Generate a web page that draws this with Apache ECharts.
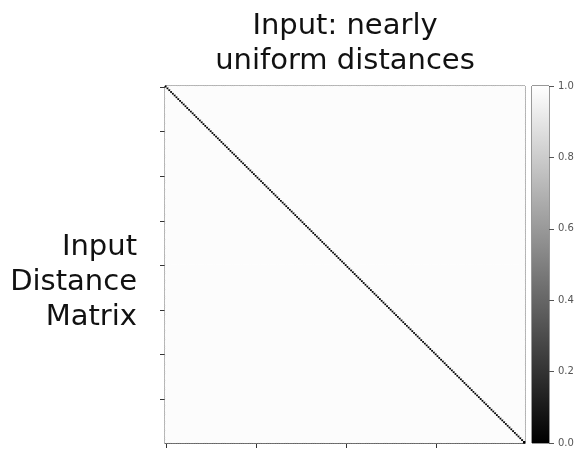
<!DOCTYPE html>
<html>
<head>
<meta charset="utf-8">
<script src="https://cdn.jsdelivr.net/npm/echarts@6/dist/echarts.min.js"></script>
<style>
  html, body { margin: 0; padding: 0; background: #fff; }
  #chart { width: 581px; height: 451px; }
</style>
</head>
<body>
<div id="chart"></div>
<script>
// Distance matrix: 200 points, self-distance 0, all other pairs nearly equal
const matrixSize = 200;
const diagonalValue = 0.0;
const offDiagonalValue = 0.99;
const xTickStep = 50;
const yTickStep = 25;
const colorbarTicks = [0.0, 0.2, 0.4, 0.6, 0.8, 1.0];
const titleText = 'Input: nearly\nuniform distances';
const rowLabelLines = ['Input', 'Distance', 'Matrix'];

const indices = [];
for (let i = 0; i < matrixSize; i++) indices.push(i);

const cells = [];
for (let r = 0; r < matrixSize; r++) {
  for (let c = 0; c < matrixSize; c++) {
    cells.push([c, r, r === c ? diagonalValue : offDiagonalValue]);
  }
}

const chart = echarts.init(document.getElementById('chart'), null, { renderer: 'canvas' });
const axisColor = '#333';
const fontFamily = '"DejaVu Sans", Verdana, sans-serif';

// Row label, one right-aligned text per line
const rowLabel = rowLabelLines.map((line, k) => ({
  type: 'text', right: 444, top: 233 + k * 35,
  style: { text: line, font: '29px ' + fontFamily, fill: '#111' }
}));

chart.setOption({
  animation: false,
  backgroundColor: '#fff',
  title: {
    text: titleText,
    left: 340, top: 4, textAlign: 'center',
    textStyle: { fontFamily, fontSize: 29, fontWeight: 'normal', color: '#111', lineHeight: 35 }
  },
  graphic: rowLabel,
  grid: [
    { left: 165, top: 86, width: 360, height: 357, show: true, borderColor: axisColor, borderWidth: 1, backgroundColor: 'transparent' },
    { left: 532, top: 86, width: 17, height: 357, show: true, borderColor: axisColor, borderWidth: 1 }
  ],
  xAxis: [
    {
      type: 'category', gridIndex: 0, data: indices,
      axisLine: { show: true, lineStyle: { color: axisColor } },
      axisTick: { show: true, alignWithLabel: true, length: 5, interval: (i) => i % xTickStep === 0, lineStyle: { color: axisColor } },
      axisLabel: { show: false }, splitLine: { show: false }
    },
    { type: 'category', gridIndex: 1, data: ['c'], show: false }
  ],
  yAxis: [
    {
      type: 'category', gridIndex: 0, data: indices, inverse: true,
      axisLine: { show: true, lineStyle: { color: axisColor } },
      axisTick: { show: true, alignWithLabel: true, length: 5, interval: (i) => i % yTickStep === 0, lineStyle: { color: axisColor } },
      axisLabel: { show: false }, splitLine: { show: false }
    },
    {
      type: 'value', gridIndex: 1, min: 0, max: 1, interval: 0.2, position: 'right',
      axisLine: { show: false },
      axisTick: { show: true, length: 5, inside: false, lineStyle: { color: '#555' } },
      axisLabel: { fontFamily, fontSize: 10, color: '#555', margin: 9, formatter: (v) => v.toFixed(1) },
      splitLine: { show: false }
    }
  ],
  visualMap: {
    show: false, type: 'continuous', min: 0, max: 1, seriesIndex: 0, dimension: 2,
    inRange: { color: ['#000000', '#ffffff'] }
  },
  series: [
    {
      type: 'heatmap', xAxisIndex: 0, yAxisIndex: 0, data: cells,
      progressive: 0, itemStyle: { borderWidth: 0 },
      emphasis: { disabled: true }
    },
    {
      type: 'bar', xAxisIndex: 1, yAxisIndex: 1, data: [1], barWidth: '100%',
      silent: true,
      itemStyle: {
        color: new echarts.graphic.LinearGradient(0, 0, 0, 1, [
          { offset: 0, color: '#ffffff' }, { offset: 1, color: '#000000' }
        ])
      }
    }
  ]
});
</script>
</body>
</html>
